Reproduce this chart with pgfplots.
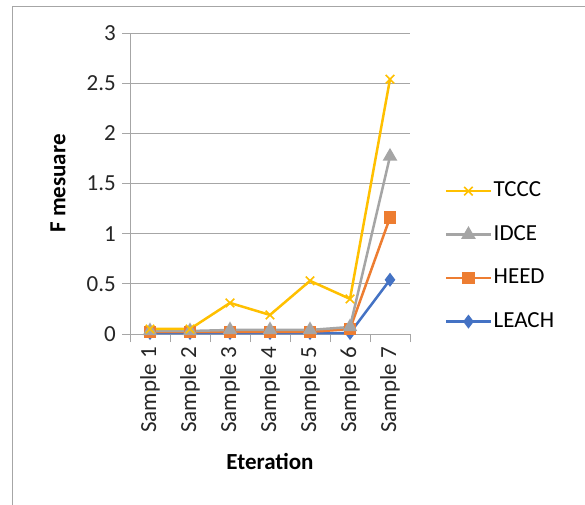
\documentclass[border=0pt]{standalone}
\usepackage{pgfplots}
\pgfplotsset{compat=1.18}
\usepackage{fontspec}
\setmainfont{Carlito}
\definecolor{cTCCC}{HTML}{FFC000}
\definecolor{cIDCE}{HTML}{A5A5A5}
\definecolor{cHEED}{HTML}{ED7D31}
\definecolor{cLEACH}{HTML}{4472C4}
\definecolor{gridc}{HTML}{A6A6A6}
\newcommand{\fs}{\fontsize{23}{27}\selectfont}

\pgfplotstableread{
x TCCC IDCE HEED LEACH
1 0.05 0.03 0.02 0.01
2 0.05 0.03 0.02 0.01
3 0.31 0.04 0.02 0.01
4 0.19 0.04 0.02 0.01
5 0.53 0.04 0.02 0.01
6 0.35 0.07 0.05 0.01
7 2.54 1.77 1.16 0.54
}\datatable

\begin{document}
\begin{tikzpicture}[x=1pt,y=1pt]
\clip (0,0) rectangle (585,504);
\fill[white] (0,0) rectangle (585,504);
\draw[gridc, line width=1pt] (12,-20) rectangle (620,497);
\begin{axis}[
  at={(130pt,170pt)}, anchor=origin,
  scale only axis, width=280pt, height=301pt,
  xmin=0.5, xmax=7.5, ymin=0, ymax=3,
  ytick={0,0.5,...,3},
  xtick={1,...,7},
  xticklabels={Sample 1,Sample 2,Sample 3,Sample 4,Sample 5,Sample 6,Sample 7},
  minor xtick={0.5,1.5,...,7.5},
  axis lines=left, axis line style={-, gridc, line width=1pt},
  ymajorgrids, grid style={gridc, line width=1pt},
  tick align=outside,
  major tick length=8pt, minor tick length=8pt,
  x tick style={draw=none}, minor x tick style={draw=gridc, line width=1pt},
  y tick style={gridc, line width=1pt},
  /pgf/number format/assume math mode=true,
  every tick label/.append style={font=\fs, text=black!85},
  xticklabel style={rotate=90, anchor=east, xshift=-3pt, inner sep=2pt},
  yticklabel style={inner sep=2pt, xshift=-4pt},
  xlabel={\textbf{Eteration}}, ylabel={\textbf{F mesuare}},
  every axis x label/.style={at={(axis description cs:0.5,-0.425)}, anchor=center, font=\fs},
  every axis y label/.style={at={(axis description cs:-0.257,0.5)}, rotate=90, anchor=center, font=\fs},
  legend cell align=left,
  reverse legend,
  legend image code/.code={\draw[mark repeat=2,mark phase=2] plot coordinates {(0pt,0pt)(22pt,0pt)(45pt,0pt)};},
  legend style={at={(axis description cs:1.125,0.258)}, anchor=west, draw=none, fill=none,
    font=\fs, row sep=22.5pt, inner sep=0pt,
    nodes={inner sep=1pt, text height=15pt, text depth=4pt}},
  clip=false,
]
\addplot[cLEACH, line width=2.5pt, mark=diamond*, mark size=5pt, mark options={solid}] table[x=x,y=LEACH] {\datatable};
\addlegendentry{LEACH}
\addplot[cHEED, line width=2.5pt, mark=square*, mark size=5pt] table[x=x,y=HEED] {\datatable};
\addlegendentry{HEED}
\addplot[cIDCE, line width=2.5pt, mark=triangle*, mark size=6pt] table[x=x,y=IDCE] {\datatable};
\addlegendentry{IDCE}
\addplot[cTCCC, line width=2.5pt, mark=x, mark size=6pt, mark options={line width=1.6pt}] table[x=x,y=TCCC] {\datatable};
\addlegendentry{TCCC}
\end{axis}
\end{tikzpicture}
\end{document}
